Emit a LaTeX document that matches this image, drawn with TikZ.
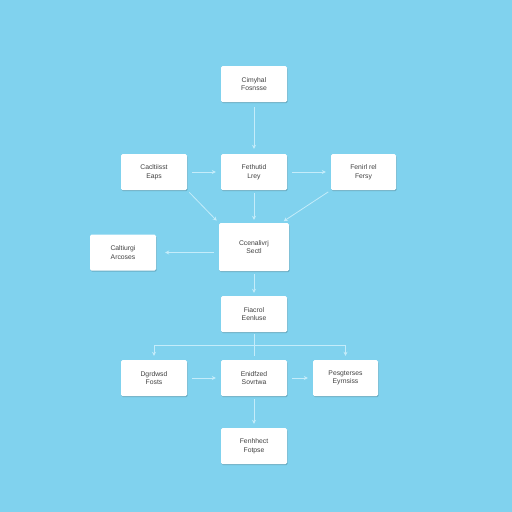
\documentclass[tikz,border=0pt]{standalone}
\usepackage{fontspec}
\setmainfont{Liberation Sans}
\usetikzlibrary{arrows.meta,shadows}
\definecolor{bg}{RGB}{128,210,238}
\definecolor{arr}{RGB}{196,236,250}
\tikzset{
  box/.style={draw=none,fill=white,rounded corners=1.5pt,minimum width=66pt,minimum height=36pt,
    align=center,font=\fontsize{6.8}{8.5}\selectfont,text=black!75,
    drop shadow={shadow xshift=0.6pt,shadow yshift=-1.2pt,opacity=0.18,fill=black}},
  conn/.style={draw=arr,line width=0.8pt,-{Stealth[length=4pt,width=4pt]},shorten <=5pt,shorten >=5pt},
  plain/.style={draw=arr,line width=0.8pt}
}
\begin{document}
\begin{tikzpicture}[x=1pt,y=-1pt]
\fill[bg] (0,0) rectangle (512,512);
\useasboundingbox (0,0) rectangle (512,512);
\node[box] (a) at (254,84) {Cimyhal\\Fosnsse};
\node[box] (b) at (154,172) {Cacltiisst\\Eaps};
\node[box] (c) at (254,172) {Fethutid\\Lrey};
\node[box,minimum width=65pt] (d) at (363.5,172) {Fenirl rel\\Fersy};
\node[box] (e) at (123,252.5) {Caltiurgi\\Arcoses};
\node[box,minimum width=70pt,minimum height=48pt] (f) at (254,247) {Ccenalivrj\\Sectl};
\node[box] (g) at (254,314) {Fiacrol\\Eenluse};
\node[box] (h) at (154,378) {Dgrdwsd\\Fosts};
\node[box] (i) at (254,378) {Enidfzed\\Sovrtwa};
\node[box,minimum width=65pt] (j) at (345.5,378) {Pesgterses\\Eyrnsiss};
\node[box] (k) at (254,446) {Fenhhect\\Fotpse};
\coordinate (j1) at (254,345);
\coordinate (jl) at (154,345);
\coordinate (jr) at (345.5,345);

\draw[conn] (a.south) -- (c.north);
\draw[conn] (b.east) -- (c.west);
\draw[conn] (c.east) -- (d.west);
\draw[conn,shorten <=3pt,shorten >=3pt] (b.south east) -- (f.north west);
\draw[conn,shorten <=3pt,shorten >=3pt] (c.south) -- (f.north);
\draw[conn,shorten <=3pt,shorten >=3pt] (d.south west) -- ([xshift=-8pt]f.north east);
\draw[conn,shorten >=9pt] (f.west |- e.east) -- (e.east);
\draw[conn,shorten <=3pt,shorten >=3pt] (f.south) -- (g.north);
\draw[plain,shorten <=2pt,shorten >=4pt] (g.south) -- (i.north);
\draw[conn,shorten <=0pt,shorten >=4pt] (jl) -- (h.north);
\draw[conn,shorten <=0pt,shorten >=4pt] (jr) -- (j.north);
\draw[plain] (jl) -- (jr);
\draw[conn] (h.east) -- (i.west);
\draw[conn] (i.east) -- (j.west);
\draw[conn,shorten <=3pt,shorten >=4pt] (i.south) -- (k.north);
\end{tikzpicture}
\end{document}
